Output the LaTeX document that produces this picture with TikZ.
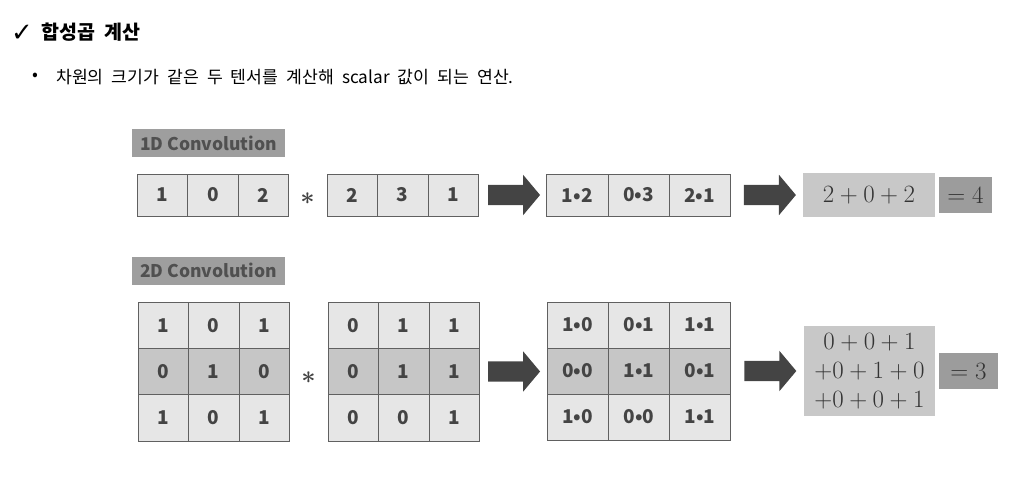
\documentclass[tikz,border=0pt]{standalone}
\usepackage{fontspec}
\setmainfont{Noto Sans CJK KR}
\newfontfamily\symfont{DejaVu Sans}
\newfontfamily\titlefont{Noto Sans CJK KR}[WordSpace=1.2]
\newfontfamily\descfont{Noto Sans CJK KR}[WordSpace=2.1]
\usepackage{tikz}
\usetikzlibrary{positioning,shapes.arrows}

\definecolor{txtgray}{HTML}{444444}
\definecolor{mathgray}{HTML}{333333}
\definecolor{linegray}{HTML}{606060}
\definecolor{cellA}{HTML}{E6E6E6}
\definecolor{cellB}{HTML}{C6C6C6}
\definecolor{taggray}{HTML}{9E9E9E}
\definecolor{tagtext}{HTML}{505050}
\definecolor{sumgray}{HTML}{C8C8C8}
\definecolor{eqgray}{HTML}{9C9C9C}
\definecolor{arrowgray}{HTML}{444444}

\tikzset{
  cell/.style={draw=linegray, line width=0.8pt, fill=cellA, minimum width=50.5pt,
    minimum height=42pt, inner sep=0pt, text=txtgray, font=\bfseries\fontsize{19}{22}\selectfont},
  prodcell/.style={cell, minimum width=61.2pt},
  tagbox/.style={fill=taggray, text=tagtext, inner sep=0pt, minimum width=153pt,
    minimum height=28pt, font=\bfseries\fontsize{17.5}{20}\selectfont},
  sumbox/.style={fill=sumgray, text=mathgray, inner sep=0pt, align=center,
    font=\fontsize{24}{29}\selectfont},
  eqbox/.style={fill=eqgray, text=mathgray, inner sep=0pt, minimum height=36pt,
    font=\fontsize{24}{29}\selectfont},
  bigarrow/.style={single arrow, fill=arrowgray, draw=none, inner sep=10pt,
    minimum width=0pt, minimum height=52pt, single arrow head extend=10pt,
    single arrow tip angle=100},
  startxt/.style={text=txtgray, font=\boldmath\fontsize{40}{44}\selectfont},
}

\begin{document}
\begin{tikzpicture}[x=1pt,y=-1pt]
  \useasboundingbox (0,0) rectangle (1027,498);

  % heading
  \node[anchor=west, inner sep=0pt, font=\symfont\bfseries\fontsize{26}{30}\selectfont] (tick) at (11,33) {✓};
  \node[anchor=west, inner sep=0pt, font=\titlefont\bfseries\fontsize{19.5}{24}\selectfont] (title) at (41,32) {합성곱 계산};
  \node[anchor=west, inner sep=0pt, font=\descfont\fontsize{17.2}{21}\selectfont] (dot) at (32,77) {•};
  \node[anchor=west, inner sep=0pt, font=\descfont\fontsize{17.2}{21}\selectfont] (desc) at (56,77) {차원의 크기가 같은 두 텐서를 계산해 scalar 값이 되는 연산.};

  % 1D convolution
  \node[tagbox] (tag1) at (208.5,143) {1D Convolution};
  \foreach \v [count=\i] in {1,0,2}
    \node[cell] (a\i) at ({162.3+50.5*(\i-1)},195) {\v};
  \node[startxt] (star1) at (307.5,198.5) {$\ast$};
  \foreach \v [count=\i] in {2,3,1}
    \node[cell] (b\i) at ({352.2+50.5*(\i-1)},195) {\v};
  \node[bigarrow, right=9pt of b3] (arr1) {};
  \foreach \v [count=\i] in {1•2,0•3,2•1}
    \node[prodcell] (c\i) at ({577.3+61.2*(\i-1)},195) {\v};
  \node[bigarrow, right=13pt of c3] (arr2) {};
  \node[sumbox, minimum width=132pt, minimum height=44pt] (sum1) at (869,195) {$2+0+2$};
  \node[eqbox, minimum width=53pt] (eq1) at (965.5,195) {$=4$};

  % 2D convolution
  \node[tagbox] (tag2) at (208.5,270.5) {2D Convolution};
  \foreach \fc/\va/\vb/\vc [count=\i] in {cellA/1/0/1, cellB/0/1/0, cellA/1/0/1} {
    \node[cell, fill=\fc, minimum height=46.3pt] (p\i1) at (163.2,{325.2+46.3*(\i-1)}) {\va};
    \node[cell, fill=\fc, minimum height=46.3pt] (p\i2) at (213.7,{325.2+46.3*(\i-1)}) {\vb};
    \node[cell, fill=\fc, minimum height=46.3pt] (p\i3) at (264.2,{325.2+46.3*(\i-1)}) {\vc};
  }
  \node[startxt] (star2) at (308.5,377.5) {$\ast$};
  \foreach \fc/\va/\vb/\vc [count=\i] in {cellA/0/1/1, cellB/0/1/1, cellA/0/0/1} {
    \node[cell, fill=\fc, minimum height=46.3pt] (q\i1) at (353.2,{325.2+46.3*(\i-1)}) {\va};
    \node[cell, fill=\fc, minimum height=46.3pt] (q\i2) at (403.7,{325.2+46.3*(\i-1)}) {\vb};
    \node[cell, fill=\fc, minimum height=46.3pt] (q\i3) at (454.2,{325.2+46.3*(\i-1)}) {\vc};
  }
  \node[bigarrow, right=8pt of q23] (arr3) {};
  \foreach \fc/\va/\vb/\vc [count=\i] in {cellA/1•0/0•1/1•1, cellB/0•0/1•1/0•1, cellA/1•0/0•0/1•1} {
    \node[prodcell, fill=\fc, minimum height=46pt] (r\i1) at (577.7,{325+46*(\i-1)}) {\va};
    \node[prodcell, fill=\fc, minimum height=46pt] (r\i2) at (638.9,{325+46*(\i-1)}) {\vb};
    \node[prodcell, fill=\fc, minimum height=46pt] (r\i3) at (700.1,{325+46*(\i-1)}) {\vc};
  }
  \node[bigarrow, right=13pt of r23] (arr4) {};
  \node[sumbox, minimum width=131pt, minimum height=90pt] (sum2) at (869.5,371)
    {$0+0+1$\\$+0+1+0$\\$+0+0+1$};
  \node[eqbox, minimum width=59pt] (eq2) at (968.5,371) {$=3$};
\end{tikzpicture}
\end{document}
